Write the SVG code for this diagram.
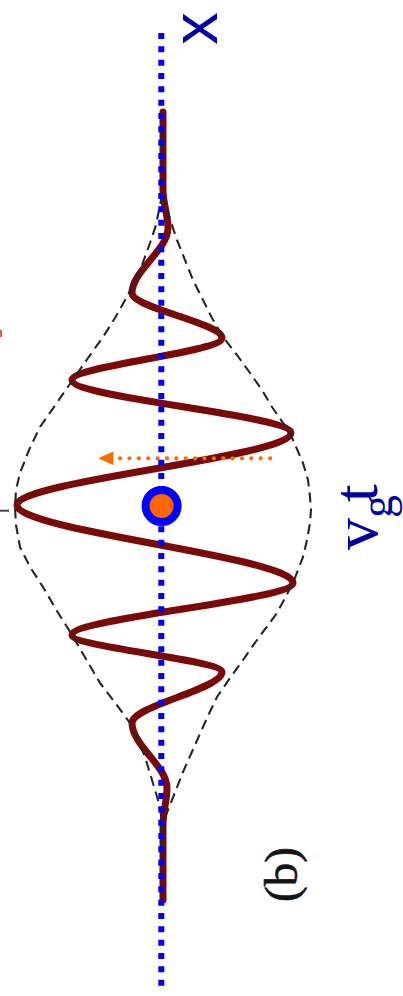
<svg xmlns="http://www.w3.org/2000/svg" width="403" height="996" viewBox="0 0 403 996">
  <style>
    .env { fill: none; stroke: #262626; stroke-width: 2.1; stroke-dasharray: 10 6; stroke-linejoin: round; }
    .wave { fill: none; stroke: #7a0a0a; stroke-width: 7; stroke-linecap: round; stroke-linejoin: round; }
    .axis { fill: none; stroke: #0000ff; stroke-width: 6; stroke-dasharray: 6 7.333; }
    .dots { fill: none; stroke: #ff6a00; stroke-width: 4.3; stroke-linecap: round; stroke-dasharray: 0 9.375; }
    .lbl { fill: #0000a5; }
    .serif { font-family: "Liberation Serif", "Times New Roman", serif; }
    .sans { font-family: "Liberation Sans", Arial, sans-serif; }
  </style>
  <rect x="0" y="0" width="403" height="996" fill="#ffffff"/>

  <g id="remnants">
    <rect x="0" y="330" width="2" height="7" fill="#e5584a"/>
    <line x1="0" y1="510.7" x2="9" y2="510.7" stroke="#444444" stroke-width="2"/>
  </g>

  <g id="wave">
    <path class="wave" d="M 163 112 L 163 190 C 163 203, 168 215, 168 228 C 168 250, 132 271, 132 293 C 132 308, 222 323, 222 338 C 222 352, 72 366, 72 380 C 72 398, 291 415, 291 433 C 291 457, 17 481, 17 505 C 17 531, 293 557, 293 583 C 293 600, 72 618, 72 635 C 72 647, 222 660, 222 672 C 222 689, 132 706, 132 723 C 132 745, 167 766, 167 788 C 167 800, 163 812, 163 825 L 163 900"/>
  </g>

  <g id="envelope">
    <polyline class="env" points="162,130 162,195 156,225 150,243 142,265 133,285 124,302 115,318 103,337 88,358 72,381 56,404 40,427 29,450 20,473 16,490 15,507 16,525 20,547 30,567 43,587 57,611 72,635 86,659 100,683 116,704 130,723 138,740 145,757 152,780 158,800 161,815 162,880"/>
    <polyline class="env" points="162,130 162,195 168,213 177,240 185,260 193,280 203,300 212,318 223,337 237,355 250,373 262,390 272,407 290,433 303,463 308,480 310,497 311,510 310,523 307,540 303,557 293,583 277,613 257,640 243,660 230,678 217,697 207,718 195,745 183,772 172,800 166,815 162,840 162,880"/>
  </g>

  <g id="phase-arrow">
    <line class="dots" x1="270.1" y1="458.3" x2="120" y2="458.3"/>
    <polygon points="98.3,458.3 113.3,451.6 113.3,465" fill="#ff6a00"/>
  </g>

  <g id="x-axis">
    <line class="axis" x1="161.3" y1="33" x2="161.3" y2="986"/>
  </g>

  <g id="packet-centre">
    <circle cx="161.6" cy="506" r="16" fill="#ff6600" stroke="#0000ff" stroke-width="8"/>
  </g>

  <g id="label-x">
    <text class="sans lbl" font-size="65" text-anchor="middle" transform="translate(217,28.5) rotate(-90)">x</text>
  </g>

  <g id="label-vgt">
    <text class="serif lbl" font-size="64" transform="translate(377,550) rotate(-90)">v</text>
    <text class="serif lbl" font-size="46" transform="translate(391.5,518) rotate(-90)">g</text>
    <text class="serif lbl" font-size="64" transform="translate(377,502) rotate(-90)">t</text>
  </g>

  <g id="label-b">
    <text class="serif" font-size="47" fill="#141414" stroke="#141414" stroke-width="0.6" transform="translate(297,902) rotate(-90)">(b)</text>
  </g>
</svg>
